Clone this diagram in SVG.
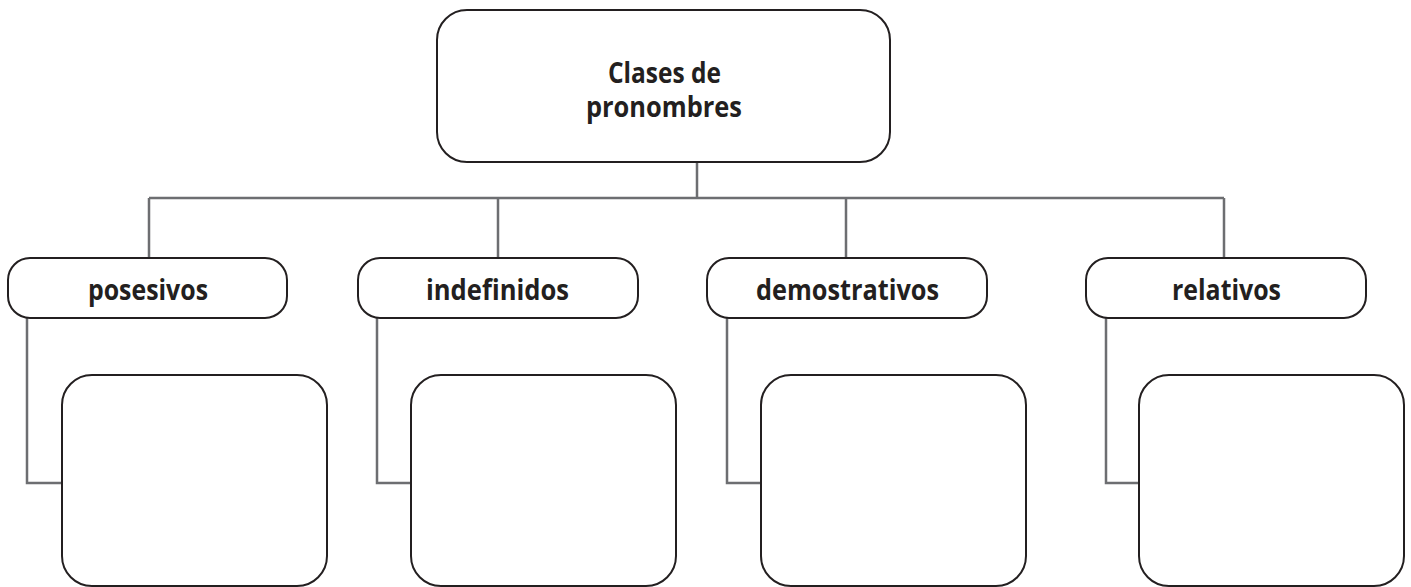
<svg xmlns="http://www.w3.org/2000/svg" width="1411" height="587" viewBox="0 0 1411 587">
<style>
.box{fill:#fff;stroke:#231f20;stroke-width:2}
.conn{fill:none;stroke:#6d6e71;stroke-width:2.5}
.lbl{font-family:"Open Sans","Liberation Sans",sans-serif;font-weight:700;font-size:29px;fill:#231f20;text-anchor:middle}
</style>
<rect width="1411" height="587" fill="#fff"/>
<g id="connectors">
<path class="conn" d="M697 162V198M149 198H1224M149 198V258M498 198V258M846 198V258M1224 198V258"/>
<path class="conn" d="M27 318V483H62M377 318V483H411M727 318V483H761M1106 318V483H1139"/>
</g>
<g id="root">
<rect class="box" x="437" y="10" width="453" height="152" rx="30"/>
<text class="lbl" x="664.5" y="83" textLength="113" lengthAdjust="spacingAndGlyphs">Clases de</text>
<text class="lbl" x="664" y="117" textLength="156" lengthAdjust="spacingAndGlyphs">pronombres</text>
</g>
<g id="posesivos">
<rect class="box" x="8" y="258" width="279" height="60" rx="22"/>
<text class="lbl" x="148" y="300" textLength="120" lengthAdjust="spacingAndGlyphs">posesivos</text>
</g>
<g id="indefinidos">
<rect class="box" x="358" y="258" width="280" height="60" rx="22"/>
<text class="lbl" x="497.5" y="300" textLength="143" lengthAdjust="spacingAndGlyphs">indefinidos</text>
</g>
<g id="demostrativos">
<rect class="box" x="707" y="258" width="280" height="60" rx="22"/>
<text class="lbl" x="847.5" y="300" textLength="183" lengthAdjust="spacingAndGlyphs">demostrativos</text>
</g>
<g id="relativos">
<rect class="box" x="1086" y="258" width="280" height="60" rx="22"/>
<text class="lbl" x="1226.5" y="300" textLength="109" lengthAdjust="spacingAndGlyphs">relativos</text>
</g>
<g id="box-posesivos"><rect class="box" x="62" y="375" width="265" height="211" rx="30"/></g>
<g id="box-indefinidos"><rect class="box" x="411" y="375" width="265" height="211" rx="30"/></g>
<g id="box-demostrativos"><rect class="box" x="761" y="375" width="265" height="211" rx="30"/></g>
<g id="box-relativos"><rect class="box" x="1139" y="375" width="265" height="211" rx="30"/></g>
</svg>
